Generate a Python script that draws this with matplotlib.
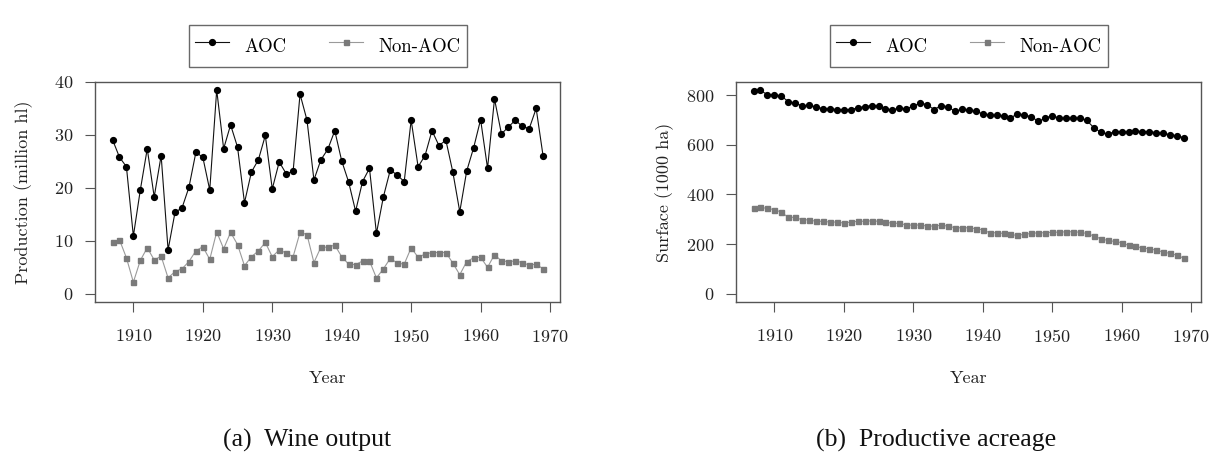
import matplotlib
matplotlib.use("Agg")
import matplotlib.pyplot as plt

plt.rcParams['font.family'] = 'cmr10'
plt.rcParams['axes.formatter.use_mathtext'] = True

# dados
years = list(range(1907, 1970))

aoc_output = [29.1, 25.8, 24.0, 10.9, 19.6, 27.4, 18.3, 26.1, 8.3, 15.4,
              16.2, 20.1, 26.7, 25.8, 19.6, 38.5, 27.4, 31.9, 27.7, 17.2,
              23.0, 25.3, 29.9, 19.8, 24.9, 22.7, 23.1, 37.7, 32.8, 21.5,
              25.3, 27.3, 30.8, 25.1, 21.1, 15.6, 21.2, 23.7, 11.4, 18.3,
              23.4, 22.4, 21.2, 32.8, 24.0, 26.1, 30.8, 28.0, 29.0, 23.0,
              15.5, 23.2, 27.6, 32.9, 23.7, 36.8, 30.2, 31.5, 32.8, 31.6,
              31.2, 35.0, 26.0]
nonaoc_output = [9.7, 10.2, 6.8, 2.2, 6.3, 8.7, 6.4, 7.1, 3.0, 4.2,
                 4.7, 6.1, 8.1, 8.9, 6.5, 11.7, 8.5, 11.6, 9.3, 5.3,
                 7.0, 8.1, 9.7, 7.0, 8.3, 7.7, 7.0, 11.6, 11.2, 5.9,
                 8.8, 8.8, 9.2, 7.0, 5.6, 5.5, 6.2, 6.2, 3.0, 4.7,
                 6.7, 5.8, 5.6, 8.7, 6.9, 7.5, 7.8, 7.8, 7.8, 5.8,
                 3.6, 6.1, 6.8, 6.9, 5.0, 7.4, 6.2, 6.1, 6.2, 5.9,
                 5.4, 5.6, 4.7]

aoc_surface = [817, 819, 802, 802, 797, 774, 768, 757, 760, 752,
               746, 745, 742, 742, 742, 749, 754, 758, 756, 745,
               741, 748, 745, 756, 768, 762, 742, 758, 753, 735,
               743, 740, 735, 725, 719, 719, 716, 707, 726, 719,
               714, 694, 707, 718, 707, 707, 707, 707, 698, 669,
               651, 643, 653, 653, 651, 656, 653, 653, 649, 647,
               640, 637, 628]
nonaoc_surface = [347, 348, 344, 339, 329, 308, 308, 298, 298, 292,
                  292, 289, 289, 285, 289, 292, 292, 294, 292, 289,
                  284, 284, 277, 277, 277, 273, 273, 276, 273, 266,
                  266, 266, 262, 258, 246, 246, 243, 239, 235, 240,
                  243, 246, 246, 248, 248, 250, 250, 248, 243, 233,
                  222, 215, 211, 206, 195, 191, 185, 181, 176, 168,
                  163, 155, 143]

x_ticks = [1910, 1920, 1930, 1940, 1950, 1960, 1970]
left_yticks = [0, 10, 20, 30, 40]
right_yticks = [0, 200, 400, 600, 800]
series_labels = ['AOC', 'Non-AOC']

fig = plt.figure(figsize=(12.11, 4.53), dpi=100)
ax1 = fig.add_axes([0.0787, 0.3327, 0.384, 0.4863])
ax2 = fig.add_axes([0.608, 0.3327, 0.384, 0.4863])

frame_color = '#555555'


def draw_panel(ax, aoc, nonaoc, yticks, ylim, ylabel):
    ax.plot(years, aoc, color='#111111', lw=0.8, marker='o', ms=4.2,
            mfc='black', mec='black', label=series_labels[0])
    ax.plot(years, nonaoc, color='#9a9a9a', lw=0.8, marker='s', ms=3.6,
            mfc='#7a7a7a', mec='#7a7a7a', label=series_labels[1])
    ax.set_xlim(1904.52, 1971.48)
    ax.set_ylim(*ylim)
    ax.set_xticks(x_ticks)
    ax.set_yticks(yticks)
    for s in ax.spines.values():
        s.set_color(frame_color)
        s.set_linewidth(1.0)
    ax.tick_params(axis='x', length=7.5, width=0.8, color=frame_color,
                   pad=11, labelsize=13, labelcolor='#222222')
    ax.tick_params(axis='y', length=7.5, width=0.8, color=frame_color,
                   pad=8, labelsize=13, labelcolor='#222222')
    ax.set_xlabel('Year', fontsize=13, color='#222222')
    ax.xaxis.set_label_coords(0.5, -0.31)
    ax.set_ylabel(ylabel, fontsize=13, color='#222222')
    ax.yaxis.set_label_coords(-0.133, 0.5)
    leg = ax.legend(loc='lower center', bbox_to_anchor=(0.5, 1.068), ncol=2,
                    fontsize=13.5, frameon=True, fancybox=False, borderaxespad=0,
                    handlelength=1.8, handletextpad=0.8, columnspacing=2.3,
                    borderpad=0.35, handleheight=2.0)
    leg.get_frame().set_edgecolor('#444444')
    leg.get_frame().set_linewidth(1.0)


draw_panel(ax1, aoc_output, nonaoc_output, left_yticks, (-1.6, 40.0),
           'Production (million hl)')
draw_panel(ax2, aoc_surface, nonaoc_surface, right_yticks, (-34, 853),
           'Surface (1000 ha)')

fig.text(307 / 1211, 1 - 440 / 453, '(a)  Wine output', family='Liberation Serif',
         fontsize=18.5, ha='center', va='center', color='#111111')
fig.text(936 / 1211, 1 - 440 / 453, '(b)  Productive acreage', family='Liberation Serif',
         fontsize=18.5, ha='center', va='center', color='#111111')

fig.savefig('out.png', dpi=100)
